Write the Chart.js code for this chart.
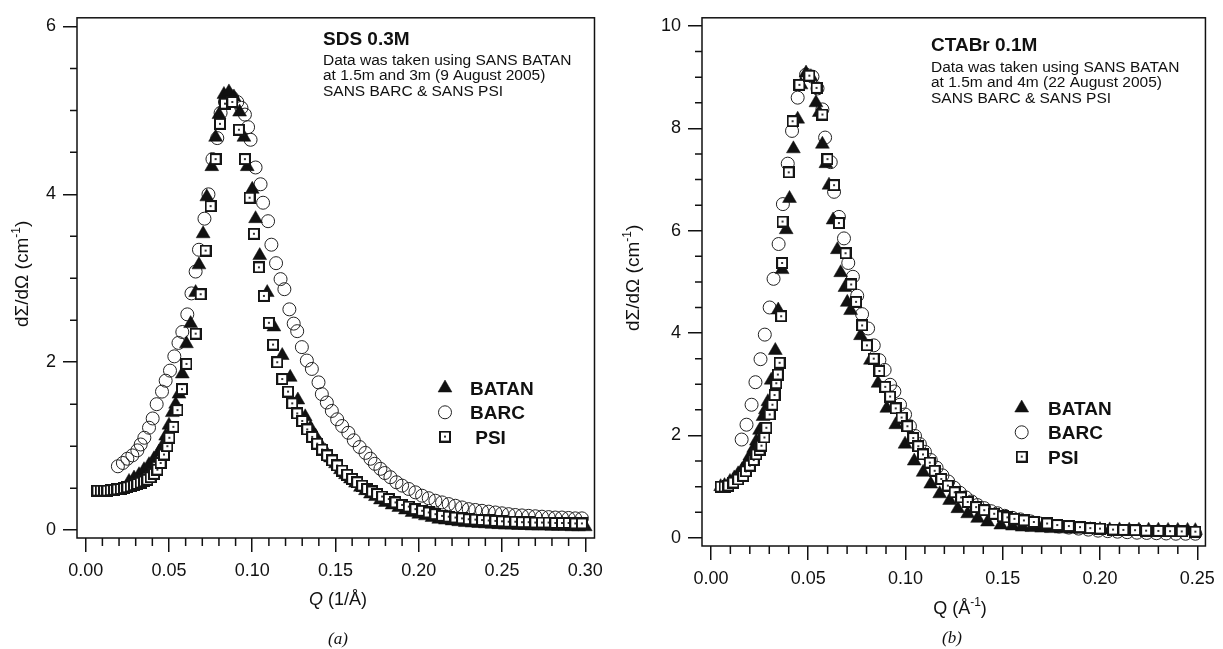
<!DOCTYPE html>
<html>
<head>
<meta charset="utf-8">
<script src="https://cdn.jsdelivr.net/npm/chart.js@4.4.0/dist/chart.umd.min.js"></script>
<style>
body{margin:0;background:#fff;width:1223px;height:649px;overflow:hidden;position:relative}
.panel{position:absolute;top:0;height:649px}
#boxA{left:0;width:611px}
#boxB{left:611px;width:612px}
</style>
</head>
<body>
<div class="panel" id="boxA"><canvas id="chartA"></canvas></div>
<div class="panel" id="boxB"><canvas id="chartB"></canvas></div>
<script>
// (a) SDS 0.3M
var sdsBatanQ = [0.026,0.029,0.032,0.035,0.038,0.041,0.044,0.046,0.048,0.050,0.052,0.054,0.056,0.058,0.0605,0.063,0.066,0.068,0.0705,0.0727,0.0757,0.078,0.080,0.083,0.086,0.089,0.0924,0.095,0.097,0.100,0.102,0.1045,0.109,0.113,0.118,0.1228,0.1274,0.1318,0.135,0.138,0.141,0.144,0.147,0.150,0.153,0.156,0.159,0.162,0.165,0.168,0.171,0.174,0.177,0.180,0.184,0.188,0.192,0.196,0.200,0.204,0.208,0.212,0.216,0.220,0.224,0.228,0.232,0.236,0.240,0.244,0.248,0.252,0.256,0.260,0.264,0.268,0.272,0.276,0.280,0.284,0.288,0.292,0.296,0.300];
var sdsBatanI = [0.58,0.62,0.66,0.72,0.78,0.85,0.93,1.00,1.12,1.25,1.40,1.50,1.62,1.86,2.22,2.46,2.83,3.16,3.53,3.97,4.33,4.68,4.95,5.19,5.22,5.16,4.98,4.68,4.33,4.06,3.71,3.27,2.83,2.42,2.08,1.82,1.55,1.35,1.22,1.12,1.02,0.94,0.86,0.79,0.72,0.66,0.61,0.56,0.51,0.47,0.43,0.40,0.36,0.33,0.30,0.27,0.24,0.21,0.19,0.17,0.15,0.13,0.12,0.11,0.10,0.09,0.085,0.08,0.075,0.07,0.065,0.06,0.06,0.055,0.055,0.05,0.05,0.05,0.045,0.045,0.045,0.04,0.04,0.04];

var sdsBarcQ = [0.0193,0.0223,0.025,0.028,0.031,0.033,0.0352,0.038,0.0402,0.0426,0.0458,0.048,0.0506,0.0532,0.0557,0.058,0.061,0.0635,0.066,0.068,0.0713,0.0737,0.0761,0.079,0.081,0.0836,0.086,0.088,0.091,0.0935,0.0956,0.0975,0.099,0.102,0.105,0.1065,0.1095,0.1115,0.1143,0.117,0.1193,0.1223,0.1249,0.127,0.1298,0.1328,0.1358,0.1398,0.1418,0.1448,0.1478,0.151,0.154,0.1577,0.161,0.1645,0.168,0.171,0.1736,0.177,0.1796,0.183,0.1866,0.190,0.194,0.198,0.202,0.206,0.210,0.214,0.218,0.222,0.226,0.230,0.234,0.238,0.242,0.246,0.250,0.254,0.258,0.262,0.266,0.270,0.274,0.278,0.282,0.286,0.290,0.294,0.298];
var sdsBarcI = [0.76,0.80,0.85,0.89,0.95,1.02,1.10,1.22,1.33,1.50,1.65,1.78,1.90,2.07,2.23,2.36,2.57,2.82,3.08,3.34,3.71,4.00,4.42,4.67,4.97,5.10,5.18,5.15,5.10,5.03,4.95,4.80,4.65,4.32,4.12,3.90,3.68,3.40,3.18,2.99,2.87,2.63,2.46,2.37,2.18,2.02,1.92,1.76,1.62,1.52,1.42,1.32,1.24,1.16,1.07,0.99,0.92,0.85,0.79,0.73,0.68,0.63,0.57,0.53,0.49,0.45,0.41,0.38,0.35,0.33,0.31,0.29,0.27,0.25,0.24,0.23,0.22,0.21,0.20,0.19,0.18,0.175,0.17,0.165,0.16,0.155,0.15,0.15,0.145,0.14,0.14];

var sdsPsiQ = [0.007,0.009,0.011,0.013,0.015,0.017,0.019,0.021,0.023,0.025,0.027,0.029,0.031,0.033,0.035,0.037,0.039,0.041,0.043,0.045,0.047,0.049,0.0502,0.0526,0.0551,0.0578,0.0605,0.066,0.069,0.072,0.075,0.078,0.0806,0.0836,0.088,0.092,0.0956,0.0984,0.101,0.104,0.107,0.110,0.1125,0.115,0.118,0.1215,0.124,0.127,0.130,0.133,0.136,0.139,0.142,0.145,0.148,0.151,0.154,0.157,0.160,0.163,0.166,0.169,0.172,0.175,0.178,0.182,0.186,0.190,0.194,0.198,0.202,0.206,0.210,0.214,0.218,0.222,0.226,0.230,0.234,0.238,0.242,0.246,0.250,0.254,0.258,0.262,0.266,0.270,0.274,0.278,0.282,0.286,0.290,0.294,0.298];
var sdsPsiI = [0.47,0.47,0.47,0.47,0.475,0.48,0.485,0.49,0.50,0.51,0.52,0.535,0.55,0.565,0.58,0.60,0.63,0.67,0.72,0.80,0.90,1.00,1.10,1.23,1.43,1.68,1.98,2.34,2.81,3.33,3.86,4.42,4.84,5.08,5.10,4.77,4.42,3.96,3.53,3.13,2.79,2.47,2.21,2.00,1.80,1.65,1.51,1.39,1.30,1.20,1.11,1.03,0.96,0.89,0.83,0.77,0.71,0.66,0.61,0.57,0.53,0.49,0.46,0.43,0.40,0.37,0.33,0.30,0.28,0.25,0.23,0.21,0.19,0.17,0.16,0.15,0.14,0.13,0.125,0.12,0.115,0.11,0.105,0.10,0.10,0.095,0.095,0.09,0.09,0.09,0.085,0.085,0.085,0.08,0.08];

// (b) CTABr 0.1M
var ctaBatanQ = [0.005,0.007,0.0098,0.012,0.014,0.016,0.0175,0.019,0.020,0.022,0.0234,0.025,0.0268,0.028,0.0293,0.031,0.0331,0.0346,0.0366,0.0387,0.0404,0.0424,0.0446,0.0463,0.0489,0.0514,0.054,0.0557,0.0573,0.0591,0.0607,0.0628,0.065,0.0667,0.0689,0.0701,0.0718,0.0769,0.082,0.0859,0.0904,0.095,0.0998,0.1045,0.1091,0.113,0.1176,0.1227,0.1269,0.132,0.1371,0.1422,0.149,0.155,0.160,0.165,0.170,0.175,0.180,0.185,0.190,0.195,0.200,0.205,0.210,0.215,0.220,0.225,0.230,0.235,0.240,0.245,0.249];
var ctaBatanI = [1.00,1.02,1.10,1.17,1.25,1.33,1.41,1.50,1.60,1.75,1.89,2.10,2.37,2.50,2.66,3.08,3.66,4.45,5.24,6.02,6.63,7.60,8.18,8.85,9.08,9.01,8.50,8.31,7.69,7.31,6.89,6.21,5.63,5.18,4.89,4.60,4.44,3.95,3.47,3.02,2.53,2.21,1.83,1.50,1.28,1.05,0.86,0.73,0.57,0.47,0.38,0.31,0.25,0.23,0.21,0.20,0.19,0.18,0.175,0.17,0.165,0.16,0.16,0.155,0.155,0.15,0.15,0.15,0.15,0.145,0.145,0.145,0.14];

var ctaBarcQ = [0.0158,0.0183,0.0209,0.0229,0.0255,0.0277,0.0302,0.0322,0.0348,0.037,0.0395,0.0417,0.0446,0.0489,0.0522,0.0548,0.0573,0.0587,0.0616,0.0633,0.0658,0.0684,0.0706,0.073,0.0752,0.0777,0.0808,0.0837,0.0866,0.0893,0.0921,0.0943,0.0972,0.0998,0.1023,0.1049,0.1074,0.110,0.113,0.116,0.119,0.122,0.125,0.128,0.131,0.134,0.137,0.1405,0.144,0.1473,0.151,0.155,0.159,0.1643,0.169,0.174,0.179,0.184,0.189,0.194,0.199,0.204,0.209,0.214,0.219,0.224,0.229,0.234,0.239,0.244,0.249];
var ctaBarcI = [1.92,2.21,2.60,3.04,3.49,3.97,4.50,5.06,5.74,6.52,7.31,7.95,8.60,9.05,9.01,8.78,8.37,7.82,7.34,6.76,6.27,5.85,5.37,5.10,4.73,4.37,4.09,3.76,3.47,3.28,2.99,2.86,2.60,2.41,2.18,1.99,1.83,1.68,1.52,1.37,1.22,1.10,0.98,0.88,0.79,0.71,0.64,0.58,0.52,0.48,0.43,0.39,0.36,0.32,0.28,0.25,0.22,0.20,0.18,0.16,0.14,0.13,0.12,0.11,0.10,0.095,0.09,0.085,0.08,0.08,0.08];

var ctaPsiQ = [0.005,0.007,0.009,0.0115,0.014,0.0166,0.018,0.020,0.022,0.0234,0.025,0.026,0.0275,0.0285,0.0302,0.0316,0.0327,0.0336,0.0344,0.0353,0.0361,0.0366,0.0368,0.040,0.042,0.0455,0.0506,0.0543,0.0573,0.0599,0.0633,0.0658,0.0692,0.0721,0.0746,0.0777,0.0802,0.0837,0.0866,0.0896,0.0921,0.095,0.098,0.101,0.104,0.1066,0.109,0.1125,0.115,0.1184,0.1218,0.1253,0.1286,0.132,0.1363,0.1405,0.1456,0.150,0.1524,0.156,0.1609,0.166,0.1728,0.178,0.184,0.1897,0.195,0.200,0.2067,0.212,0.218,0.2237,0.230,0.236,0.242,0.249];
var ctaPsiI = [1.00,1.00,1.02,1.08,1.14,1.21,1.30,1.41,1.52,1.63,1.72,1.80,1.96,2.15,2.41,2.60,2.79,3.02,3.19,3.42,4.33,5.37,6.18,7.14,8.14,8.85,9.03,8.79,8.27,7.40,6.89,6.15,5.56,4.95,4.61,4.15,3.76,3.50,3.26,2.95,2.76,2.53,2.35,2.18,1.95,1.79,1.63,1.47,1.31,1.15,1.02,0.89,0.79,0.70,0.60,0.54,0.47,0.42,0.40,0.37,0.34,0.31,0.28,0.25,0.23,0.21,0.19,0.18,0.16,0.155,0.15,0.14,0.135,0.13,0.125,0.12];

// axis ticks
var xTicksA = [0, 0.05, 0.10, 0.15, 0.20, 0.25, 0.30];
var yTicksA = [0, 2, 4, 6];
var xTicksB = [0, 0.05, 0.10, 0.15, 0.20, 0.25];
var yTicksB = [0, 2, 4, 6, 8, 10];
var legendNames = ['BATAN', 'BARC', 'PSI'];

var SANS = "'Liberation Sans', Arial, sans-serif";
var SERIF = "'Liberation Serif', 'Times New Roman', serif";

function pts(q, v){
	var out = [];
	for(var i=0; i<q.length; i++){ out.push({x: q[i], y: v[i]}); }
	return out;
}

// square with a dot in the middle, like the PSI marker
function squareDot(){
	var c = document.createElement('canvas');
	c.width = 12; c.height = 12;
	var g = c.getContext('2d');
	g.fillStyle = '#fff'; g.fillRect(0, 0, 12, 12);
	g.strokeStyle = '#151515'; g.lineWidth = 2; g.strokeRect(1, 1, 10, 10);
	g.fillStyle = '#333'; g.fillRect(5, 5, 2, 2);
	return c;
}
var psiMark = squareDot();

function minorList(lo, hi, step, majors){
	var out = [];
	for(var v=lo; v<=hi+1e-9; v+=step){
		var r = Math.round(v*1000)/1000;
		if(majors.indexOf(r) < 0) out.push(r);
	}
	return out;
}

function drawRuns(ctx, runs, x, y, centered){
	var w = 0;
	runs.forEach(function(r){ ctx.font = r.font; w += ctx.measureText(r.t).width; });
	var cx = centered ? x - w/2 : x;
	runs.forEach(function(r){
		ctx.font = r.font;
		ctx.fillText(r.t, cx, y + (r.dy || 0));
		cx += ctx.measureText(r.t).width;
	});
}

function drawMarker(ctx, ds, x, y){
	var s = ds.pointStyle;
	if(typeof s !== 'string'){ ctx.drawImage(s, x - s.width/2, y - s.height/2); return; }
	var r = ds.pointRadius;
	ctx.fillStyle = ds.pointBackgroundColor;
	ctx.strokeStyle = ds.pointBorderColor;
	ctx.lineWidth = ds.pointBorderWidth;
	ctx.beginPath();
	if(s === 'triangle'){
		ctx.moveTo(x, y - r);
		ctx.lineTo(x + r*0.866, y + r*0.5);
		ctx.lineTo(x - r*0.866, y + r*0.5);
		ctx.closePath();
	} else {
		ctx.arc(x, y, r, 0, Math.PI*2);
	}
	ctx.fill();
	ctx.stroke();
}

var decor = {
	id: 'decor',
	afterDraw: function(chart, args, o){
		var ctx = chart.ctx, a = chart.chartArea;
		var xs = chart.scales.x, ys = chart.scales.y;
		ctx.save();
		ctx.strokeStyle = '#111';
		ctx.lineWidth = 1.5;
		ctx.strokeRect(a.left, a.top, a.right - a.left, a.bottom - a.top);

		// minor ticks
		ctx.beginPath();
		o.xMinor.forEach(function(v){
			var px = xs.getPixelForValue(v);
			ctx.moveTo(px, a.bottom); ctx.lineTo(px, a.bottom + 8);
		});
		o.yMinor.forEach(function(v){
			var py = ys.getPixelForValue(v);
			ctx.moveTo(a.left, py); ctx.lineTo(a.left - 7, py);
		});
		ctx.stroke();

		ctx.fillStyle = '#111';
		ctx.textAlign = 'left';
		ctx.textBaseline = 'alphabetic';

		// note in the corner
		ctx.font = 'bold 19px ' + SANS;
		ctx.fillText(o.note.title, o.note.x, o.note.y);
		ctx.font = '15.5px ' + SANS;
		o.note.lines.forEach(function(t, i){
			ctx.fillText(t, o.note.x, o.note.y2 + i*15.3);
		});

		// legend
		chart.data.datasets.forEach(function(ds, i){
			var yy = o.legend.y + i*o.legend.dy;
			drawMarker(ctx, ds, o.legend.mx, yy);
			ctx.fillStyle = '#111';
			ctx.font = 'bold 19px ' + SANS;
			ctx.fillText(ds.label, o.legend.tx, yy + 7);
		});

		// axis titles
		drawRuns(ctx, o.xTitle, o.xTitleX, o.xTitleY, true);
		ctx.save();
		ctx.translate(o.yTitleX, (a.top + a.bottom)/2 - 4);
		ctx.rotate(-Math.PI/2);
		drawRuns(ctx, o.yTitle, 0, 7, true);
		ctx.restore();

		// caption
		ctx.font = 'italic 17px ' + SERIF;
		ctx.textAlign = 'center';
		ctx.fillText(o.caption, o.capX, o.capY);
		ctx.restore();
	}
};

var yTitleRuns = [
	{t: 'd\u03A3/d\u03A9 (cm', font: '19px ' + SANS},
	{t: '-1', font: '12px ' + SANS, dy: -8},
	{t: ')', font: '19px ' + SANS}
];

function makeSets(batan, barc, psi, psiLabel){
	return [
		{label: legendNames[0], data: batan, order: 1, pointStyle: 'triangle', pointRadius: 8,
		 pointBackgroundColor: '#111', pointBorderColor: '#111', pointBorderWidth: 0.5},
		{label: legendNames[1], data: barc, order: 2, pointStyle: 'circle', pointRadius: 6.5,
		 pointBackgroundColor: 'rgba(0,0,0,0)', pointBorderColor: '#222', pointBorderWidth: 1},
		{label: psiLabel, data: psi, order: 0, pointStyle: psiMark, pointRadius: 6,
		 pointBackgroundColor: '#fff', pointBorderColor: '#111', pointBorderWidth: 1}
	];
}

function axisX(min, max, ticks){
	return {
		type: 'linear', min: min, max: max,
		afterBuildTicks: function(ax){ ax.ticks = ticks.map(function(v){ return {value: v}; }); },
		afterFit: function(ax){ ax.height = 70; },
		grid: {drawOnChartArea: false, drawTicks: true, tickLength: 14, color: '#111', lineWidth: 1.5},
		border: {display: false},
		ticks: {color: '#111', padding: 8, font: {family: SANS, size: 18},
			callback: function(v){ return Number(v).toFixed(2); }}
	};
}

function axisY(min, max, ticks, width){
	return {
		type: 'linear', min: min, max: max,
		afterBuildTicks: function(ax){ ax.ticks = ticks.map(function(v){ return {value: v}; }); },
		afterFit: function(ax){ ax.width = width; },
		grid: {drawOnChartArea: false, drawTicks: true, tickLength: 14, color: '#111', lineWidth: 1.5},
		border: {display: false},
		ticks: {color: '#111', padding: 7, font: {family: SANS, size: 18},
			callback: function(v){ return String(v); }}
	};
}

new Chart(document.getElementById('chartA'), {
	type: 'scatter',
	data: {datasets: makeSets(pts(sdsBatanQ, sdsBatanI), pts(sdsBarcQ, sdsBarcI), pts(sdsPsiQ, sdsPsiI), ' PSI')},
	options: {
		responsive: true, maintainAspectRatio: false, animation: false, devicePixelRatio: 1, events: [],
		layout: {padding: {top: 12, right: 13, bottom: 41, left: 0}},
		scales: {
			x: axisX(-0.00525, 0.30555, xTicksA),
			y: axisY(-0.094, 6.103, yTicksA, 77)
		},
		plugins: {
			legend: {display: false}, tooltip: {enabled: false},
			decor: {
				xMinor: minorList(0, 0.30, 0.01, xTicksA),
				yMinor: minorList(0, 6, 0.5, yTicksA),
				note: {x: 323, y: 45, y2: 65, title: 'SDS 0.3M',
					lines: ['Data was taken using SANS BATAN', 'at 1.5m and 3m (9 August 2005)', 'SANS BARC & SANS PSI']},
				legend: {mx: 445, tx: 470, y: 388, dy: 24.3},
				xTitle: [{t: 'Q', font: 'italic 18px ' + SANS}, {t: ' (1/\u00C5)', font: '18px ' + SANS}],
				xTitleX: 338, xTitleY: 605,
				yTitle: yTitleRuns, yTitleX: 21,
				caption: '(a)', capX: 338, capY: 644
			}
		}
	},
	plugins: [decor]
});

new Chart(document.getElementById('chartB'), {
	type: 'scatter',
	data: {datasets: makeSets(pts(ctaBatanQ, ctaBatanI), pts(ctaBarcQ, ctaBarcI), pts(ctaPsiQ, ctaPsiI), 'PSI')},
	options: {
		responsive: true, maintainAspectRatio: false, animation: false, devicePixelRatio: 1, events: [],
		layout: {padding: {top: 12.5, right: 13, bottom: 33, left: 0}},
		scales: {
			x: axisX(-0.00458, 0.2542, xTicksB),
			y: axisY(-0.16, 10.16, yTicksB, 91)
		},
		plugins: {
			legend: {display: false}, tooltip: {enabled: false},
			decor: {
				xMinor: minorList(0, 0.25, 0.01, xTicksB),
				yMinor: minorList(0, 10, 0.5, yTicksB),
				note: {x: 320, y: 51, y2: 72, title: 'CTABr 0.1M',
					lines: ['Data was taken using SANS BATAN', 'at 1.5m and 4m (22 August 2005)', 'SANS BARC & SANS PSI']},
				legend: {mx: 410.7, tx: 437, y: 408, dy: 24.3},
				xTitle: [{t: 'Q (\u00C5', font: '18px ' + SANS}, {t: '-1', font: '12px ' + SANS, dy: -8}, {t: ')', font: '18px ' + SANS}],
				xTitleX: 349, xTitleY: 614,
				yTitle: yTitleRuns, yTitleX: 21,
				caption: '(b)', capX: 341, capY: 643
			}
		}
	},
	plugins: [decor]
});
</script>
</body>
</html>
